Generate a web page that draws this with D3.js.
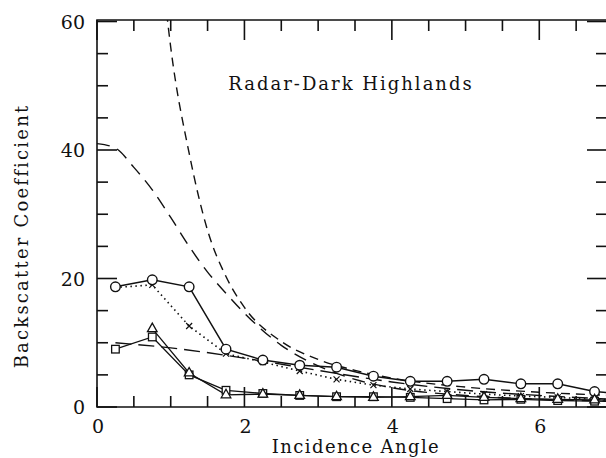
<!DOCTYPE html>
<html><head><meta charset="utf-8">
<script src="https://cdn.jsdelivr.net/npm/d3@7"></script>
<style>body{margin:0;background:#fff}svg{display:block}text{font-family:"DejaVu Serif",serif;fill:#111}</style>
</head><body><svg id="c" width="606" height="458"></svg>
<script>
const xTicks=[0,2,4,6];
const yTicks=[0,20,40,60];
const angles=[0.25,0.75,1.25,1.75,2.25,2.75,3.25,3.75,4.25,4.75,5.25,5.75,6.25,6.75,7.25];
const circles=[18.7,19.8,18.7,9.0,7.3,6.5,6.2,4.8,4.0,4.0,4.3,3.6,3.6,2.4,1.9];
const crosses=[18.6,19.0,12.6,8.3,7.0,5.6,4.3,3.4,2.8,2.4,2.0,1.7,1.5,1.2,1.0];
const triangles=[null,12.2,5.3,1.9,2.0,1.8,1.6,1.5,1.6,1.8,1.5,1.3,1.2,1.1,1.0];
const squares=[9.0,10.9,5.0,2.6,2.1,1.8,1.6,1.6,1.5,1.3,1.1,1.2,1.0,0.9,0.8];
const steepX=[0.9,1.0,1.25,1.5,1.75,2.0,2.5,3.0,3.5,4.0,5.0,6.0,7.0];
const steepY=[66,56,39.5,27.5,20.3,15.5,10.2,7.4,5.7,4.5,3.1,2.3,1.8];
const gaussX=[0,0.25,0.5,0.75,1.0,1.25,1.5,1.75,2.0,2.5,3.0,3.5,4.0,5.0,6.0,7.0];
const gaussY=[41,40.3,37.3,33.8,29.5,25,21,17.7,14.6,9.6,6.4,4.3,3.0,1.8,1.2,0.9];
const expX=[0.25,1.0,2.0,3.0,4.0,5.0,6.0,7.0];
const expY=[10.0,9.2,7.6,5.7,3.9,2.6,1.8,1.2];

const svg=d3.select("#c");
const L=97,T=20,B=407,R=607;
const x=d3.scaleLinear().domain([0,7]).range([L,613]);
const y=d3.scaleLinear().domain([0,60]).range([B,T+1.5]);

svg.append("defs").append("clipPath").attr("id","clip").append("rect")
  .attr("x",L).attr("y",T).attr("width",R-L).attr("height",B-T);
const g=svg.append("g").attr("clip-path","url(#clip)");
const stroke="#111";

function curve(xs,ys,dash,w,smooth){
  const line=d3.line().defined(d=>d[1]!=null).x(d=>x(d[0])).y(d=>y(d[1]))
    .curve(smooth?d3.curveMonotoneX:d3.curveLinear);
  g.append("path").attr("d",line(xs.map((v,i)=>[v,ys[i]]))).attr("fill","none")
   .attr("stroke",stroke).attr("stroke-width",w||1.4).attr("stroke-dasharray",dash||null);
}
curve(steepX,steepY,"9,6",1.4,true);
curve(gaussX,gaussY,"13,8",1.4,true);
curve(expX,expY,"16,7",1.4,true);
curve(angles,crosses,"1.5,3.5",1.6);
curve(angles,triangles,null,1.3);
curve(angles,squares,null,1.3);
curve(angles,circles,null,1.5);

// markers
angles.forEach((a,i)=>{
  const cx=x(a);
  const xy=y(crosses[i]);
  g.append("path").attr("d",`M${cx-3},${xy-3}L${cx+3},${xy+3}M${cx+3},${xy-3}L${cx-3},${xy+3}`)
    .attr("stroke",stroke).attr("stroke-width",1.2);
  g.append("circle").attr("cx",cx).attr("cy",y(circles[i])).attr("r",4.8)
    .attr("fill","#fff").attr("stroke",stroke).attr("stroke-width",1.4);
  g.append("rect").attr("x",cx-3.8).attr("y",y(squares[i])-3.8).attr("width",7.6).attr("height",7.6)
    .attr("fill","#fff").attr("stroke",stroke).attr("stroke-width",1.3);
  if(triangles[i]!=null){
    const ty=y(triangles[i]);
    g.append("path").attr("d",`M${cx},${ty-5.5}L${cx+4.8},${ty+3}L${cx-4.8},${ty+3}Z`)
      .attr("fill","#fff").attr("stroke",stroke).attr("stroke-width",1.3);
  }
});

// frame
const ax=svg.append("g").attr("stroke",stroke).attr("stroke-width",1.6).attr("fill","none");
ax.append("path").attr("d",`M${L},${T}H${R}V${B}H${L}Z`);
d3.range(0,7.01,0.5).forEach(v=>{
  const major=xTicks.includes(v);
  const len=major?20:11;
  const px=x(v);
  if(px>R) return;
  ax.append("line").attr("x1",px).attr("x2",px).attr("y1",B).attr("y2",B-len);
  ax.append("line").attr("x1",px).attr("x2",px).attr("y1",T).attr("y2",T+len);
});
d3.range(0,60.01,5).forEach(v=>{
  const major=yTicks.includes(v);
  const len=major?20:11;
  const py=y(v);
  ax.append("line").attr("x1",L).attr("x2",L+len).attr("y1",py).attr("y2",py);
  ax.append("line").attr("x1",R).attr("x2",R-len).attr("y1",py).attr("y2",py);
});

// labels
const fs=19;
xTicks.forEach(v=>{
  svg.append("text").attr("x",x(v)+1).attr("y",433).attr("text-anchor","middle")
    .attr("font-size",fs).text(v);
});
yTicks.forEach(v=>{
  svg.append("text").attr("x",85).attr("y",y(v)+7).attr("text-anchor","end")
    .attr("font-size",fs).text(v);
});
svg.append("text").attr("x",356).attr("y",453).attr("text-anchor","middle")
  .attr("font-size",18).attr("letter-spacing",1.4).text("Incidence Angle");
svg.append("text").attr("transform","translate(28,236) rotate(-90)").attr("text-anchor","middle")
  .attr("font-size",18).attr("letter-spacing",2.2).text("Backscatter Coefficient");
svg.append("text").attr("x",351).attr("y",90).attr("text-anchor","middle")
  .attr("font-size",18).attr("letter-spacing",2).text("Radar-Dark Highlands");
</script></body></html>
